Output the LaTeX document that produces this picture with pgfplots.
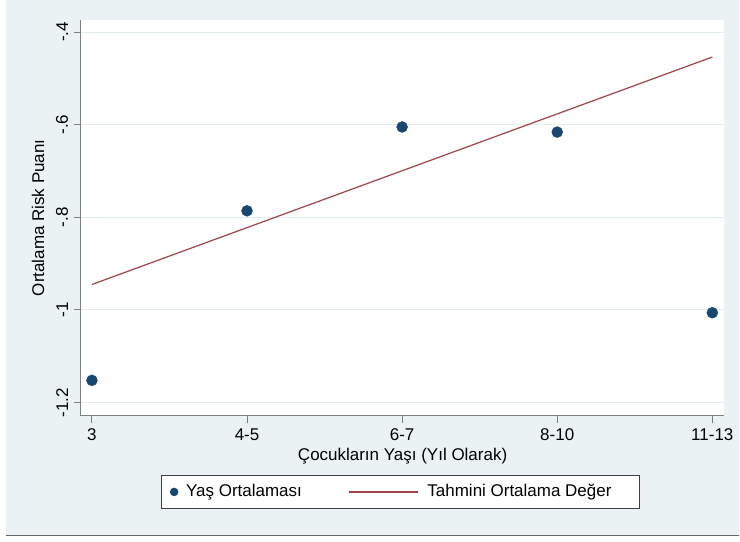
\documentclass[border=0pt]{standalone}
\usepackage{fontspec}
\setmainfont{Liberation Sans}
\usepackage{pgfplots}
\pgfplotsset{compat=1.18}
\definecolor{stbg}{HTML}{EAF2F3}
\definecolor{stgrid}{HTML}{E2EDEF}
\definecolor{stnavy}{HTML}{1A476F}
\definecolor{stmaroon}{HTML}{A0434A}
\definecolor{staxis}{HTML}{7F7F7F}
\newcommand{\fs}{\fontsize{17bp}{20bp}\selectfont}
\begin{document}
\fs
\begin{tikzpicture}
\fill[white] (0,0) rectangle (740bp,542bp);
\fill[stbg] (6bp,6bp) rectangle (740bp,542bp);
\draw[staxis!80!black, line width=1.5bp] (6bp,6bp) -- (740bp,6bp);
\begin{axis}[
  at={(81bp,126bp)}, anchor=south west,
  width=644bp, height=396bp, scale only axis,
  xmin=-0.071, xmax=4.077, ymin=-1.228, ymax=-0.374,
  axis x line*=bottom, axis y line*=left,
  axis line style={staxis, line width=1bp},
  axis background/.style={fill=white},
  xtick={0,1,2,3,4},
  xticklabels={3,4-5,6-7,8-10,11-13},
  ytick={-1.2,-1,-0.8,-0.6,-0.4},
  yticklabels={{-1.2},{-1},{-.8},{-.6},{-.4}},
  tick align=outside,
  major tick length=7bp,
  tick style={staxis, line width=1bp},
  ymajorgrids,
  y grid style={stgrid, line width=1bp},
  every tick label/.append style={font=\fs, text=black},
  yticklabel style={rotate=90, anchor=south},
  xticklabel style={anchor=north},
  xlabel={Çocukların Yaşı (Yıl Olarak)},
  ylabel={Ortalama Risk Puanı},
  xlabel style={font=\fs, at={(axis description cs:0.5,-0.1035)}, anchor=center},
  ylabel style={font=\fs, at={(axis description cs:-0.0668,0.5)}, anchor=center},
  legend columns=2,
  legend style={font=\fs, at={(axis description cs:0.497,-0.193)}, anchor=center,
    draw=black!75, line width=1bp, fill=white, inner xsep=8bp, inner ysep=7bp,
    /tikz/every even column/.append style={column sep=44bp}},
  clip=false,
]
\addplot[only marks, mark=*, mark size=5.5bp, color=stnavy,
  legend image code/.code={\fill[stnavy, draw=none] (4bp,0) circle (4.3bp); \path[draw=none, fill=none] (0,0) rectangle (14bp,0.1bp);}]
  coordinates {(0,-1.152) (1,-0.786) (2,-0.605) (3,-0.616) (4,-1.006)};
\addlegendentry{Yaş Ortalaması}
\addplot[stmaroon, line width=1.2bp,
  legend image code/.code={\draw[draw=stmaroon, line width=1.4bp] (0,0) -- (70bp,0); \path[draw=none, fill=none] (0,0) rectangle (77bp,0.1bp);}]
  coordinates {(0,-0.945) (4,-0.454)};
\addlegendentry{Tahmini Ortalama Değer\kern18bp\null}
\end{axis}
\end{tikzpicture}
\end{document}
